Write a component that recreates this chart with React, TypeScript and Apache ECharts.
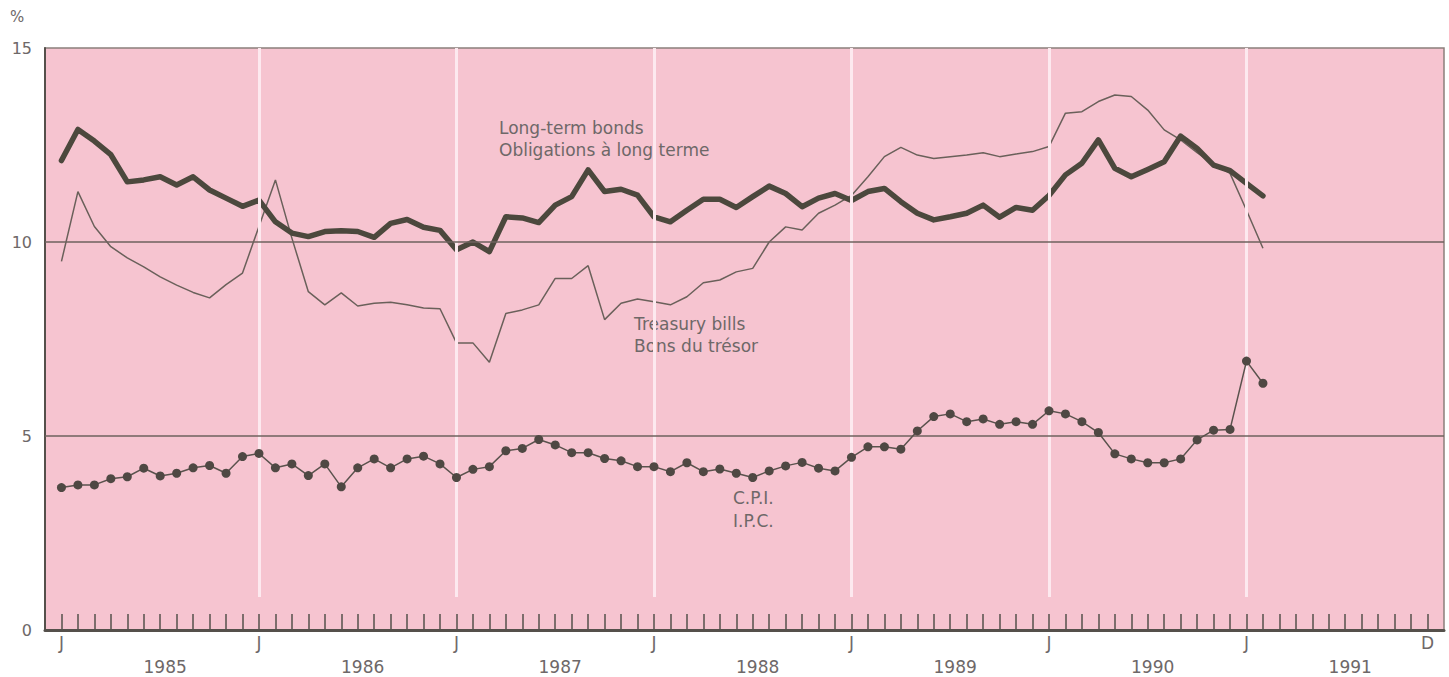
import React, { useEffect, useRef } from "react";
import * as echarts from "echarts";

// Monthly series, January 1985 (index 0) to February 1991 (index 73)
const startYear = 1985;
const yearLabels = ["1985", "1986", "1987", "1988", "1989", "1990", "1991"];
const yTicks = [0, 5, 10, 15];

const bonds = [
  12.1, 12.9, 12.6, 12.25, 11.55, 11.6, 11.68, 11.47, 11.68, 11.34, 11.13, 10.92,
  11.08, 10.52, 10.23, 10.14, 10.27, 10.29, 10.27, 10.12, 10.48, 10.58, 10.38, 10.3,
  9.8, 10.0, 9.75, 10.65, 10.62, 10.5, 10.95, 11.17, 11.86, 11.3, 11.36, 11.21,
  10.65, 10.52, 10.82, 11.1, 11.1, 10.89, 11.17, 11.44, 11.25, 10.91, 11.13, 11.25,
  11.07, 11.3, 11.38, 11.04, 10.74, 10.57, 10.65, 10.74, 10.95, 10.64, 10.89, 10.82,
  11.2, 11.73, 12.03, 12.63, 11.9, 11.68, 11.87, 12.07, 12.73, 12.41, 11.98, 11.84,
  11.51, 11.19,
];

const bills = [
  9.5, 11.3, 10.4, 9.88, 9.59, 9.36, 9.1, 8.89, 8.7, 8.56, 8.9, 9.2,
  10.4, 11.6, 10.1, 8.72, 8.38, 8.69, 8.35, 8.42, 8.45, 8.38, 8.3, 8.28,
  7.4, 7.4, 6.9, 8.16, 8.25, 8.38, 9.06, 9.06, 9.39, 8.0, 8.42, 8.53,
  8.46, 8.38, 8.59, 8.95, 9.02, 9.23, 9.32, 10.0, 10.39, 10.31, 10.74, 10.95,
  11.2, 11.68, 12.2, 12.44, 12.24, 12.15, 12.2, 12.24, 12.3, 12.2, 12.27, 12.33,
  12.46, 13.32, 13.36, 13.62, 13.79, 13.75, 13.4, 12.89, 12.63, 12.3, 12.0, 11.77,
  10.82, 9.84,
];

const cpi = [
  3.67, 3.74, 3.74, 3.9, 3.95, 4.17, 3.97, 4.04, 4.18, 4.24, 4.04, 4.47,
  4.55, 4.18, 4.28, 3.98, 4.28, 3.69, 4.18, 4.41, 4.18, 4.41, 4.48, 4.28,
  3.93, 4.14, 4.21, 4.62, 4.68, 4.91, 4.77, 4.57, 4.57, 4.42, 4.36, 4.21,
  4.21, 4.08, 4.31, 4.08, 4.15, 4.04, 3.93, 4.1, 4.23, 4.32, 4.17, 4.1,
  4.45, 4.72, 4.72, 4.66, 5.13, 5.5, 5.57, 5.37, 5.44, 5.3, 5.37, 5.3,
  5.65, 5.57, 5.37, 5.09, 4.54, 4.41, 4.31, 4.31, 4.41, 4.9, 5.15, 5.17,
  6.93, 6.36,
];

const FONT = "DejaVu Sans";
const TEXT = "#6e6868";
const DARK = "#55504b";

export default function App() {
  const ref = useRef<HTMLDivElement>(null);

  useEffect(() => {
    const chart = echarts.init(ref.current!, null, { renderer: "svg" });

    const monthTicks: number[] = [];
    for (let m = 0; m < yearLabels.length * 12; m++) monthTicks.push(m);
    const janTicks = yearLabels.map((_, i) => i * 12);
    const monthLabelValues = [...janTicks, yearLabels.length * 12 - 1];
    const yearLabelValues = yearLabels.map((_, i) => i * 12 + 6.3);

    const toPairs = (arr: number[]) => arr.map((v, i) => [i, v]);

    const whiteLines = janTicks.slice(1).map((m) => [
      { coord: [m, yTicks[yTicks.length - 1]], lineStyle: { color: "#fde9ef", width: 3, type: "solid" } },
      { coord: [m, 0.85] },
    ]);
    const hLines = yTicks.slice(1, -1).map((v) => [
      { coord: [-1, v], lineStyle: { color: "#6e625e", width: 1.5, type: "solid" } },
      { coord: [84, v] },
    ]);

    chart.setOption({
      animation: false,
      grid: {
        left: 45,
        top: 48,
        right: 5,
        bottom: 47,
        show: true,
        backgroundColor: "#f6c4d0",
        borderColor: "#8a7f7b",
        borderWidth: 1.5,
      },
      xAxis: [
        {
          type: "value",
          min: -1,
          max: 84,
          position: "bottom",
          axisLine: { show: true, onZero: false, lineStyle: { color: DARK, width: 3 } },
          axisTick: {
            show: true,
            inside: true,
            length: 16,
            customValues: monthTicks,
            lineStyle: { color: DARK, width: 1.5 },
          },
          axisLabel: {
            customValues: monthLabelValues,
            formatter: (v: number) => (v === yearLabels.length * 12 - 1 ? "D" : "J"),
            color: TEXT,
            fontFamily: FONT,
            fontSize: 17,
            margin: 4,
          },
          splitLine: { show: false },
        },
        {
          type: "value",
          min: -1,
          max: 84,
          position: "bottom",
          offset: 24,
          axisLine: { show: false },
          axisTick: { show: false },
          axisLabel: {
            customValues: yearLabelValues,
            formatter: (v: number) => yearLabels[Math.floor(v / 12)] ?? String(startYear + Math.floor(v / 12)),
            color: TEXT,
            fontFamily: FONT,
            fontSize: 17,
            margin: 4,
          },
          splitLine: { show: false },
        },
      ],
      yAxis: {
        type: "value",
        min: 0,
        max: 15,
        interval: 5,
        axisLine: { show: true, onZero: false, lineStyle: { color: DARK, width: 2 } },
        axisTick: { show: false },
        axisLabel: { color: TEXT, fontFamily: FONT, fontSize: 16, margin: 13 },
        splitLine: { show: false },
      },
      graphic: [
        { type: "text", x: 10, y: 17, style: { text: "%", font: `15px "${FONT}"`, fill: TEXT, verticalAlign: "middle" } },
        { type: "text", x: 499, y: 128, style: { text: "Long-term bonds", font: `17px "${FONT}"`, fill: TEXT, verticalAlign: "middle" } },
        { type: "text", x: 499, y: 150, style: { text: "Obligations à long terme", font: `17px "${FONT}"`, fill: TEXT, verticalAlign: "middle" } },
        { type: "text", x: 634, y: 324, style: { text: "Treasury bills", font: `17px "${FONT}"`, fill: TEXT, verticalAlign: "middle" } },
        { type: "text", x: 634, y: 346, style: { text: "Bons du trésor", font: `17px "${FONT}"`, fill: TEXT, verticalAlign: "middle" } },
        { type: "text", x: 733, y: 498, style: { text: "C.P.I.", font: `17px "${FONT}"`, fill: TEXT, verticalAlign: "middle" } },
        { type: "text", x: 733, y: 521, style: { text: "I.P.C.", font: `17px "${FONT}"`, fill: TEXT, verticalAlign: "middle" } },
      ],
      series: [
        {
          type: "line",
          data: [],
          z: 1,
          silent: true,
          markLine: {
            silent: true,
            symbol: ["none", "none"],
            label: { show: false },
            data: [...whiteLines, ...hLines],
          },
        },
        {
          name: "Treasury bills",
          type: "line",
          data: toPairs(bills),
          showSymbol: false,
          z: 3,
          lineStyle: { color: "#6a605a", width: 1.5 },
        },
        {
          name: "Long-term bonds",
          type: "line",
          data: toPairs(bonds),
          showSymbol: false,
          z: 4,
          lineStyle: { color: "#4c483d", width: 5.5, join: "round", cap: "round" },
        },
        {
          name: "C.P.I.",
          type: "line",
          data: toPairs(cpi),
          symbol: "circle",
          symbolSize: 9,
          z: 5,
          itemStyle: { color: "#4f4843" },
          lineStyle: { color: "#5a524d", width: 1.5 },
        },
      ],
    });

    return () => chart.dispose();
  }, []);

  return (
    <div
      ref={ref}
      style={{ position: "fixed", left: 0, top: 0, width: 1449, height: 677, background: "#ffffff" }}
    />
  );
}
